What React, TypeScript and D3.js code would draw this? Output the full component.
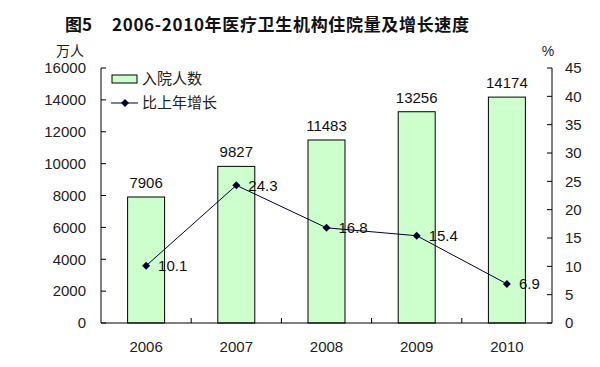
import React from 'react';
import * as d3 from 'd3';

const years = ['2006', '2007', '2008', '2009', '2010'];
const admissions = [7906, 9827, 11483, 13256, 14174];
const growth = [10.1, 24.3, 16.8, 15.4, 6.9];
const leftTicks = [0, 2000, 4000, 6000, 8000, 10000, 12000, 14000, 16000];
const rightTicks = [0, 5, 10, 15, 20, 25, 30, 35, 40, 45];

const W = 600;
const H = 367;
const margin = { top: 68, right: 48, bottom: 44, left: 101 };
const numFont = '"Liberation Sans", Arial, sans-serif';
const cjkFont = '"Noto Sans CJK SC", sans-serif';

export default function App() {
  const x = d3.scaleBand<string>()
    .domain(years)
    .range([margin.left, W - margin.right])
    .paddingInner(0)
    .paddingOuter(0);
  const yL = d3.scaleLinear().domain([0, 16000]).range([H - margin.bottom, margin.top]);
  const yR = d3.scaleLinear().domain([0, 45]).range([H - margin.bottom, margin.top]);
  const barW = x.bandwidth() * 0.41;
  const cx = (d: string) => (x(d) ?? 0) + x.bandwidth() / 2;

  const line = d3.line<number>()
    .x((_, i) => cx(years[i]))
    .y(d => yR(d));

  const x0 = margin.left;
  const x1 = W - margin.right;
  const yb = H - margin.bottom;
  const yt = margin.top;

  return (
    <svg width={W} height={H} style={{ position: 'absolute', left: 0, top: 0, background: '#fff' }}>
      {/* title */}
      <text x={65} y={31} fontFamily={cjkFont} fontWeight="bold" fontSize={17} fill="#111">图5</text>
      <text x={112} y={31} textLength={357} lengthAdjust="spacing" fontFamily={cjkFont} fontWeight="bold" fontSize={17} fill="#111">
        2006-2010年医疗卫生机构住院量及增长速度
      </text>
      <text x={70} y={56} textAnchor="middle" fontFamily={cjkFont} fontSize={14} fill="#222">万人</text>
      <text x={548} y={56} textAnchor="middle" fontFamily={numFont} fontSize={14} fill="#222">%</text>

      {/* bars */}
      {admissions.map((v, i) => (
        <g key={years[i]}>
          <rect x={cx(years[i]) - barW / 2} y={yL(v)} width={barW} height={yb - yL(v)}
            fill="#ccffcc" stroke="#000" strokeWidth={1} />
          <text x={cx(years[i])} y={yL(v) - 9} textAnchor="middle" fontFamily={numFont} fontSize={15} fill="#111">{v}</text>
        </g>
      ))}

      {/* axes */}
      <line x1={x0} x2={x0} y1={yt} y2={yb} stroke="#000" />
      <line x1={x1} x2={x1} y1={yt} y2={yb} stroke="#000" />
      <line x1={x0} x2={x1} y1={yb} y2={yb} stroke="#000" />
      {leftTicks.map(t => (
        <g key={'l' + t}>
          <line x1={x0} x2={x0 + 5} y1={yL(t)} y2={yL(t)} stroke="#000" />
          <text x={x0 - 15} y={yL(t)} dy="0.35em" textAnchor="end" fontFamily={numFont} fontSize={15} fill="#222">{t}</text>
        </g>
      ))}
      {rightTicks.map(t => (
        <g key={'r' + t}>
          <line x1={x1 - 5} x2={x1} y1={yR(t)} y2={yR(t)} stroke="#000" />
          <text x={x1 + 13} y={yR(t)} dy="0.35em" textAnchor="start" fontFamily={numFont} fontSize={15} fill="#222">{t}</text>
        </g>
      ))}
      {years.slice(1).map(d => (
        <line key={'xt' + d} x1={x(d)} x2={x(d)} y1={yb - 5} y2={yb} stroke="#000" />
      ))}
      {years.map(d => (
        <text key={'xl' + d} x={cx(d)} y={yb + 29} textAnchor="middle" fontFamily={numFont} fontSize={15} fill="#222">{d}</text>
      ))}

      {/* growth line */}
      <path d={line(growth) ?? ''} fill="none" stroke="#000033" strokeWidth={1} />
      {growth.map((v, i) => (
        <g key={'g' + i}>
          <path d={`M${cx(years[i])},${yR(v) - 4}l4,4l-4,4l-4,-4z`} fill="#000033" />
          <text x={cx(years[i]) + 12} y={yR(v)} dy="0.35em" fontFamily={numFont} fontSize={15} fill="#111">{v}</text>
        </g>
      ))}

      {/* legend */}
      <rect x={112} y={75} width={25} height={8} fill="#ccffcc" stroke="#000" />
      <text x={142} y={79} dy="0.35em" fontFamily={cjkFont} fontSize={15} fill="#222">入院人数</text>
      <line x1={111} x2={138} y1={103} y2={103} stroke="#000033" />
      <path d="M125,99l4,4l-4,4l-4,-4z" fill="#000033" />
      <text x={142} y={103} dy="0.35em" fontFamily={cjkFont} fontSize={15} fill="#222">比上年增长</text>
    </svg>
  );
}
